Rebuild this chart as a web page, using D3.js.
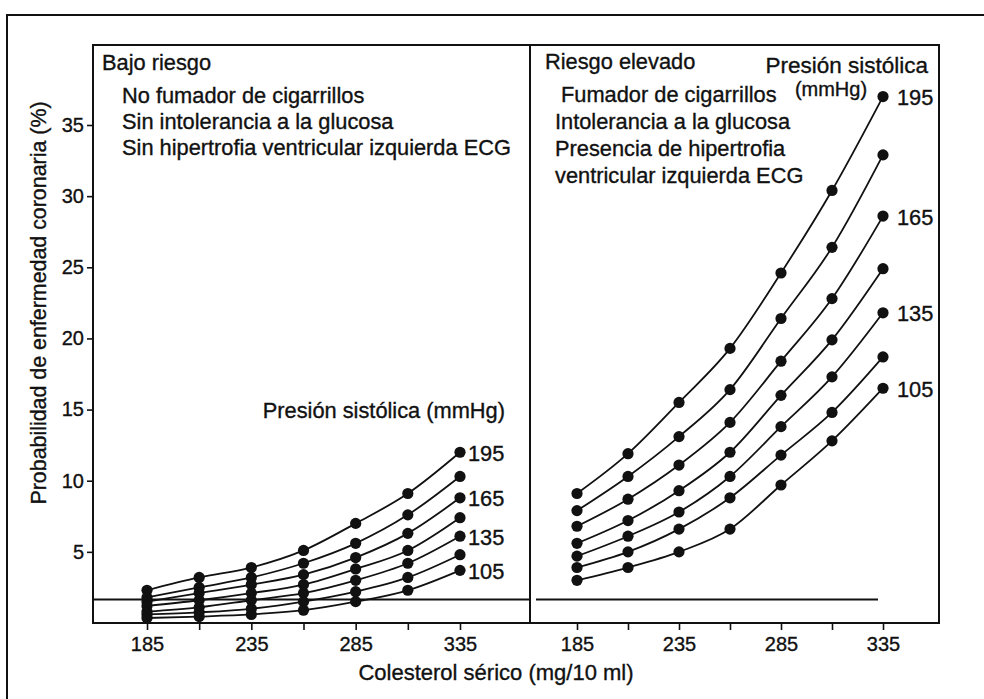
<!DOCTYPE html>
<html>
<head>
<meta charset="utf-8">
<script src="https://cdn.jsdelivr.net/npm/d3@7/dist/d3.min.js"></script>
<style>
  html, body { margin: 0; padding: 0; background: #fff; }
  svg { display: block; }
  text { font-family: "Liberation Sans", Arial, sans-serif; fill: #111; stroke: #111; stroke-width: 0.35px; }
</style>
</head>
<body>
<svg id="chart" width="984" height="699"></svg>
<script>
// Serum cholesterol levels (mg/10 ml) at which risk is plotted
const cholesterol = [185, 210, 235, 260, 285, 310, 335];
const cholesterolLabels = [185, 235, 285, 335];
// Systolic pressure levels (mmHg), one curve each
const pressures = [195, 180, 165, 150, 135, 120, 105];
const labelledPressures = [195, 165, 135, 105];
const yTicks = [5, 10, 15, 20, 25, 30, 35];

// Probability of coronary disease (%), low-risk profile
const lowRisk195 = [2.3, 3.2, 3.9, 5.1, 7.0, 9.1, 12.0];
const lowRisk180 = [1.8, 2.5, 3.2, 4.2, 5.6, 7.6, 10.3];
const lowRisk165 = [1.5, 2.1, 2.7, 3.4, 4.6, 6.3, 8.8];
const lowRisk150 = [1.2, 1.6, 2.1, 2.7, 3.8, 5.1, 7.4];
const lowRisk135 = [0.8, 1.1, 1.6, 2.1, 3.0, 4.2, 6.1];
const lowRisk120 = [0.6, 0.75, 1.0, 1.5, 2.2, 3.2, 4.8];
const lowRisk105 = [0.35, 0.45, 0.6, 0.9, 1.5, 2.3, 3.7];

// Probability of coronary disease (%), high-risk profile
const highRisk195 = [9.1, 11.9, 15.5, 19.3, 24.6, 30.4, 37.0];
const highRisk180 = [7.9, 10.3, 13.1, 16.4, 21.4, 26.4, 32.9];
const highRisk165 = [6.8, 8.7, 11.1, 14.1, 18.4, 22.8, 28.6];
const highRisk150 = [5.6, 7.2, 9.3, 12.0, 16.0, 19.9, 24.9];
const highRisk135 = [4.7, 6.1, 7.8, 10.3, 13.8, 17.3, 21.8];
const highRisk120 = [3.9, 5.0, 6.6, 8.8, 11.8, 14.8, 18.7];
const highRisk105 = [3.0, 3.9, 5.0, 6.6, 9.7, 12.8, 16.5];

// Average-risk reference level (%)
const referenceLevel = 1.65;

const lowRiskSeries = [lowRisk195, lowRisk180, lowRisk165, lowRisk150, lowRisk135, lowRisk120, lowRisk105];
const highRiskSeries = [highRisk195, highRisk180, highRisk165, highRisk150, highRisk135, highRisk120, highRisk105];

const lowRiskNotes = ["No fumador de cigarrillos", "Sin intolerancia a la glucosa", "Sin hipertrofia ventricular izquierda ECG"];
const highRiskNotes = ["Fumador de cigarrillos", "Intolerancia a la glucosa", "Presencia de hipertrofia", "ventricular izquierda ECG"];

const svg = d3.select("#chart");
const ink = "#111";
const bodySize = "21.8px";

// Frame geometry
const box = { left: 93, right: 939, top: 45, bottom: 623, split: 530 };

const y = d3.scaleLinear().domain([0, 35]).range([box.bottom, 125]);
const xLow = d3.scaleLinear().domain([185, 335]).range([147, 460]);
const xHigh = d3.scaleLinear().domain([185, 335]).range([577, 883]);

// Outer page frame
svg.append("path")
  .attr("d", "M7,699 L7,15 L984,15")
  .attr("fill", "none").attr("stroke", ink).attr("stroke-width", 2);

// Inner panels
svg.append("rect")
  .attr("x", box.left).attr("y", box.top)
  .attr("width", box.right - box.left).attr("height", box.bottom - box.top)
  .attr("fill", "none").attr("stroke", ink).attr("stroke-width", 2);
svg.append("line")
  .attr("x1", box.split).attr("x2", box.split)
  .attr("y1", box.top).attr("y2", box.bottom)
  .attr("stroke", ink).attr("stroke-width", 2);

// Y axis
const yAxis = d3.axisLeft(y).tickValues(yTicks).tickSize(6).tickPadding(3);
const gy = svg.append("g").attr("transform", `translate(${box.left},0)`).call(yAxis);
gy.select(".domain").remove();
gy.selectAll("line").attr("stroke", ink).attr("stroke-width", 1.6);
gy.selectAll("text").style("font-size", "20px").attr("fill", ink);

svg.append("text")
  .attr("transform", `translate(46,303) rotate(-90)`)
  .attr("text-anchor", "middle")
  .style("font-size", "21.4px")
  .text("Probabilidad de enfermedad coronaria (%)");

// X axes
function xAxisFor(scale) {
  return d3.axisBottom(scale).tickValues(cholesterol).tickSize(7).tickPadding(7)
    .tickFormat(d => cholesterolLabels.includes(d) ? d : "");
}
[xLow, xHigh].forEach(scale => {
  const g = svg.append("g").attr("transform", `translate(0,${box.bottom})`).call(xAxisFor(scale));
  g.select(".domain").remove();
  g.selectAll("line").attr("stroke", ink).attr("stroke-width", 1.6);
  g.selectAll("text").style("font-size", "20px").attr("fill", ink);
});

svg.append("text")
  .attr("x", 496).attr("y", 680)
  .attr("text-anchor", "middle")
  .style("font-size", "22px")
  .text("Colesterol sérico (mg/10 ml)");

// Reference lines
svg.append("line")
  .attr("x1", box.left).attr("x2", box.split)
  .attr("y1", y(referenceLevel)).attr("y2", y(referenceLevel))
  .attr("stroke", ink).attr("stroke-width", 1.8);
svg.append("line")
  .attr("x1", box.split + 6).attr("x2", xHigh(335) - 5)
  .attr("y1", y(referenceLevel)).attr("y2", y(referenceLevel))
  .attr("stroke", ink).attr("stroke-width", 1.8);

// Curves with dots
function drawPanel(xScale, seriesList, labelGap) {
  const line = d3.line()
    .x((d, i) => xScale(cholesterol[i]))
    .y(d => y(d))
    .curve(d3.curveMonotoneX);
  const g = svg.append("g");
  seriesList.forEach(values => {
    g.append("path").attr("d", line(values))
      .attr("fill", "none").attr("stroke", ink).attr("stroke-width", 1.8);
    g.selectAll(null).data(values).enter().append("circle")
      .attr("cx", (d, i) => xScale(cholesterol[i]))
      .attr("cy", d => y(d))
      .attr("r", 5.6)
      .attr("fill", ink);
  });
  // Pressure labels at the end of the labelled curves
  pressures.forEach((p, k) => {
    if (!labelledPressures.includes(p)) return;
    const v = seriesList[k][seriesList[k].length - 1];
    g.append("text")
      .attr("x", xScale(335) + labelGap).attr("y", y(v) + 1)
      .attr("dy", "0.35em")
      .style("font-size", bodySize)
      .text(p);
  });
}
drawPanel(xLow, lowRiskSeries, 8);
drawPanel(xHigh, highRiskSeries, 14);

// Panel headings and notes
svg.append("text").attr("x", 102).attr("y", 70).style("font-size", bodySize).text("Bajo riesgo");
lowRiskNotes.forEach((t, i) => {
  svg.append("text").attr("x", 122).attr("y", 103 + i * 26).style("font-size", bodySize).text(t);
});
svg.append("text").attr("x", 545).attr("y", 69).style("font-size", bodySize).text("Riesgo elevado");
highRiskNotes.forEach((t, i) => {
  svg.append("text").attr("x", i === 0 ? 561 : 555).attr("y", 102 + i * 27)
    .style("font-size", bodySize).text(t);
});

svg.append("text").attr("x", 505).attr("y", 418).attr("text-anchor", "end")
  .style("font-size", bodySize).text("Presión sistólica (mmHg)");
svg.append("text").attr("x", 928).attr("y", 73).attr("text-anchor", "end")
  .style("font-size", "22.5px").text("Presión sistólica");
svg.append("text").attr("x", 831).attr("y", 96).attr("text-anchor", "middle")
  .style("font-size", "20px").text("(mmHg)");
</script>
</body>
</html>
